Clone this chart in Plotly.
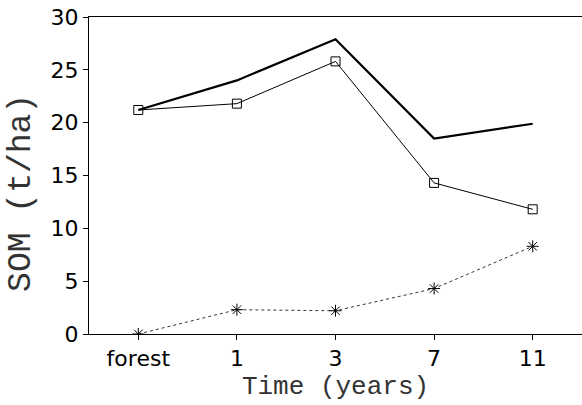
import plotly.graph_objects as go

categories = ["forest", "1", "3", "7", "11"]
som_total = [21.2, 24.0, 27.9, 18.5, 19.9]
som_squares = [21.2, 21.8, 25.8, 14.3, 11.8]
som_stars = [0.0, 2.3, 2.2, 4.3, 8.3]
y_ticks = [0, 5, 10, 15, 20, 25, 30]

fig = go.Figure()
fig.add_trace(go.Scatter(x=categories, y=som_total, mode="lines",
                         line=dict(color="black", width=2.2), showlegend=False))
fig.add_trace(go.Scatter(x=categories, y=som_squares, mode="lines+markers",
                         line=dict(color="black", width=1),
                         marker=dict(symbol="square-open", size=9, color="black",
                                     line=dict(width=1)), showlegend=False))
fig.add_trace(go.Scatter(x=categories, y=som_stars, mode="lines+markers",
                         line=dict(color="#333", width=1, dash="dot"),
                         marker=dict(symbol="asterisk-open", size=10, color="black",
                                     line=dict(width=1, color="black")), showlegend=False))

fig.update_layout(
    width=582, height=405,
    margin=dict(l=89, r=0, t=17, b=71),
    paper_bgcolor="white", plot_bgcolor="white",
    xaxis=dict(type="category", range=[-0.5, 4.5], showgrid=False, zeroline=False,
               automargin=False,
               showline=True, linecolor="black", linewidth=1, mirror=True,
               ticks="outside", ticklen=5, tickcolor="black",
               tickfont=dict(family="DejaVu Sans", size=22, color="black"),
               title=dict(text="Time (years)", standoff=5,
                          font=dict(family="Liberation Mono", size=26, color="#333"))),
    yaxis=dict(range=[0, 30], tickvals=y_ticks, showgrid=False, zeroline=False,
               automargin=False,
               showline=True, linecolor="black", linewidth=1,
               ticks="outside", ticklen=5, tickcolor="black",
               tickfont=dict(family="DejaVu Sans", size=22, color="black")),
    annotations=[dict(text="SOM (t/ha)", textangle=-90, showarrow=False,
                      xref="paper", yref="paper", x=-0.136, y=0.445,
                      xanchor="center", yanchor="middle",
                      font=dict(family="Liberation Mono", size=33, color="#333"))],
)
fig.write_html("out.html", config={"displayModeBar": False},
               post_script="document.body.style.margin='0';document.body.style.overflow='hidden';")
